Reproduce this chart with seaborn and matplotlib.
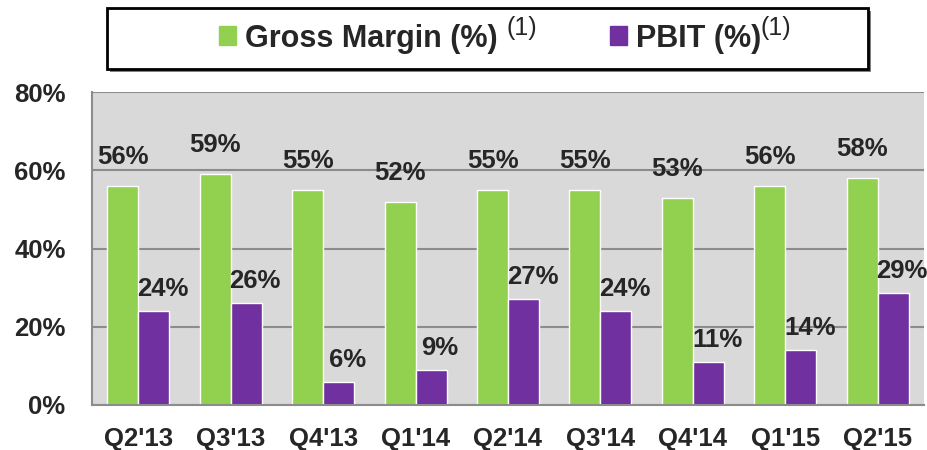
import pandas as pd
import matplotlib.pyplot as plt
import matplotlib.patches as mpatches
import seaborn as sns

# Data
quarters = ["Q2'13", "Q3'13", "Q4'13", "Q1'14", "Q2'14", "Q3'14", "Q4'14", "Q1'15", "Q2'15"]
gross_margin = [56, 59, 55, 52, 55, 55, 53, 56, 58]
pbit = [24, 26, 6, 9, 27, 24, 11, 14, 28.6]
series_names = ["Gross Margin", "PBIT"]
legend_labels = ["Gross Margin (%)", "PBIT (%)"]
footnote_mark = "(1)"
y_ticks = [0, 20, 40, 60, 80]

df = pd.DataFrame({
    "quarter": quarters * 2,
    "series": [series_names[0]] * len(quarters) + [series_names[1]] * len(quarters),
    "value": gross_margin + pbit,
})

# Style
sns.set_style("white")
plt.rcParams["font.family"] = ["Liberation Sans", "DejaVu Sans"]
plt.rcParams["font.weight"] = "bold"

green = "#92D050"
purple = "#7030A0"
grid_gray = "#8C8C8C"

fig = plt.figure(figsize=(9.28, 4.5), dpi=100)
ax = fig.add_axes([92 / 928, 1 - 405 / 450, 832 / 928, 313 / 450])
ax.set_facecolor("#D9D9D9")

sns.barplot(
    data=df, x="quarter", y="value", hue="series",
    palette=[green, purple], width=0.67, ax=ax,
    saturation=1, legend=False,
)

ax.set_ylim(0, 80)
ax.set_xlim(-0.5, len(quarters) - 0.5)
ax.set_yticks(y_ticks)
ax.set_yticklabels([f"{t}%" for t in y_ticks])
ax.set_xlabel("")
ax.set_ylabel("")

ax.yaxis.grid(True, color=grid_gray, linewidth=1.5)
ax.set_axisbelow(True)
for side in ["top", "right"]:
    ax.spines[side].set_visible(False)
for side in ["left", "bottom"]:
    ax.spines[side].set_color(grid_gray)
    ax.spines[side].set_linewidth(1.5)

ax.tick_params(axis="y", length=7, width=1.5, color=grid_gray, pad=12, labelsize=18.5)
ax.tick_params(axis="x", which="major", length=0, pad=16, labelsize=18.5)
ax.set_xticks([i - 0.5 for i in range(len(quarters) + 1)], minor=True)
ax.tick_params(axis="x", which="minor", length=7, width=1.5, color=grid_gray)

# Value labels
for k, cont in enumerate(ax.containers):
    dx, dy = (0, 17) if k == 0 else (9, 10)
    for bar in cont:
        h = bar.get_height()
        ax.annotate(f"{h:.0f}%", (bar.get_x() + bar.get_width() / 2, h),
                    xytext=(dx, dy), textcoords="offset pixels",
                    ha="center", va="bottom", fontsize=18.5, fontweight="bold")

# Legend box with shadow
box = (107 / 928, 1 - 69 / 450, 761 / 928, 61 / 450)
fig.patches.append(mpatches.Rectangle((box[0] + 3 / 928, box[1] - 3 / 450), box[2], box[3],
                                      transform=fig.transFigure, facecolor="#7F7F7F",
                                      edgecolor="none", zorder=1))
fig.patches.append(mpatches.Rectangle(box[:2], box[2], box[3], transform=fig.transFigure,
                                      facecolor="white", edgecolor="black", linewidth=2, zorder=2))
handles = [mpatches.Patch(color=green), mpatches.Patch(color=purple)]
leg = fig.legend(handles, legend_labels, loc="center left", ncol=2,
                 bbox_to_anchor=(204 / 928, 1 - 38.5 / 450),
                 frameon=False, prop={"size": 22, "weight": "bold"}, borderpad=0,
                 handlelength=0.56, handleheight=0.56, handletextpad=0.27, columnspacing=3.7)

# superscript footnote marks after each legend entry
fig.canvas.draw()
inv = fig.transFigure.inverted()
for txt, gap in zip(leg.get_texts(), [9, 0]):
    bb = txt.get_window_extent()
    x, _ = inv.transform((bb.x1 + gap, bb.y1))
    fig.text(x, 1 - 16 / 450, footnote_mark, fontsize=18, fontweight="normal",
             ha="left", va="top")

fig.savefig("out.png", dpi=100)
